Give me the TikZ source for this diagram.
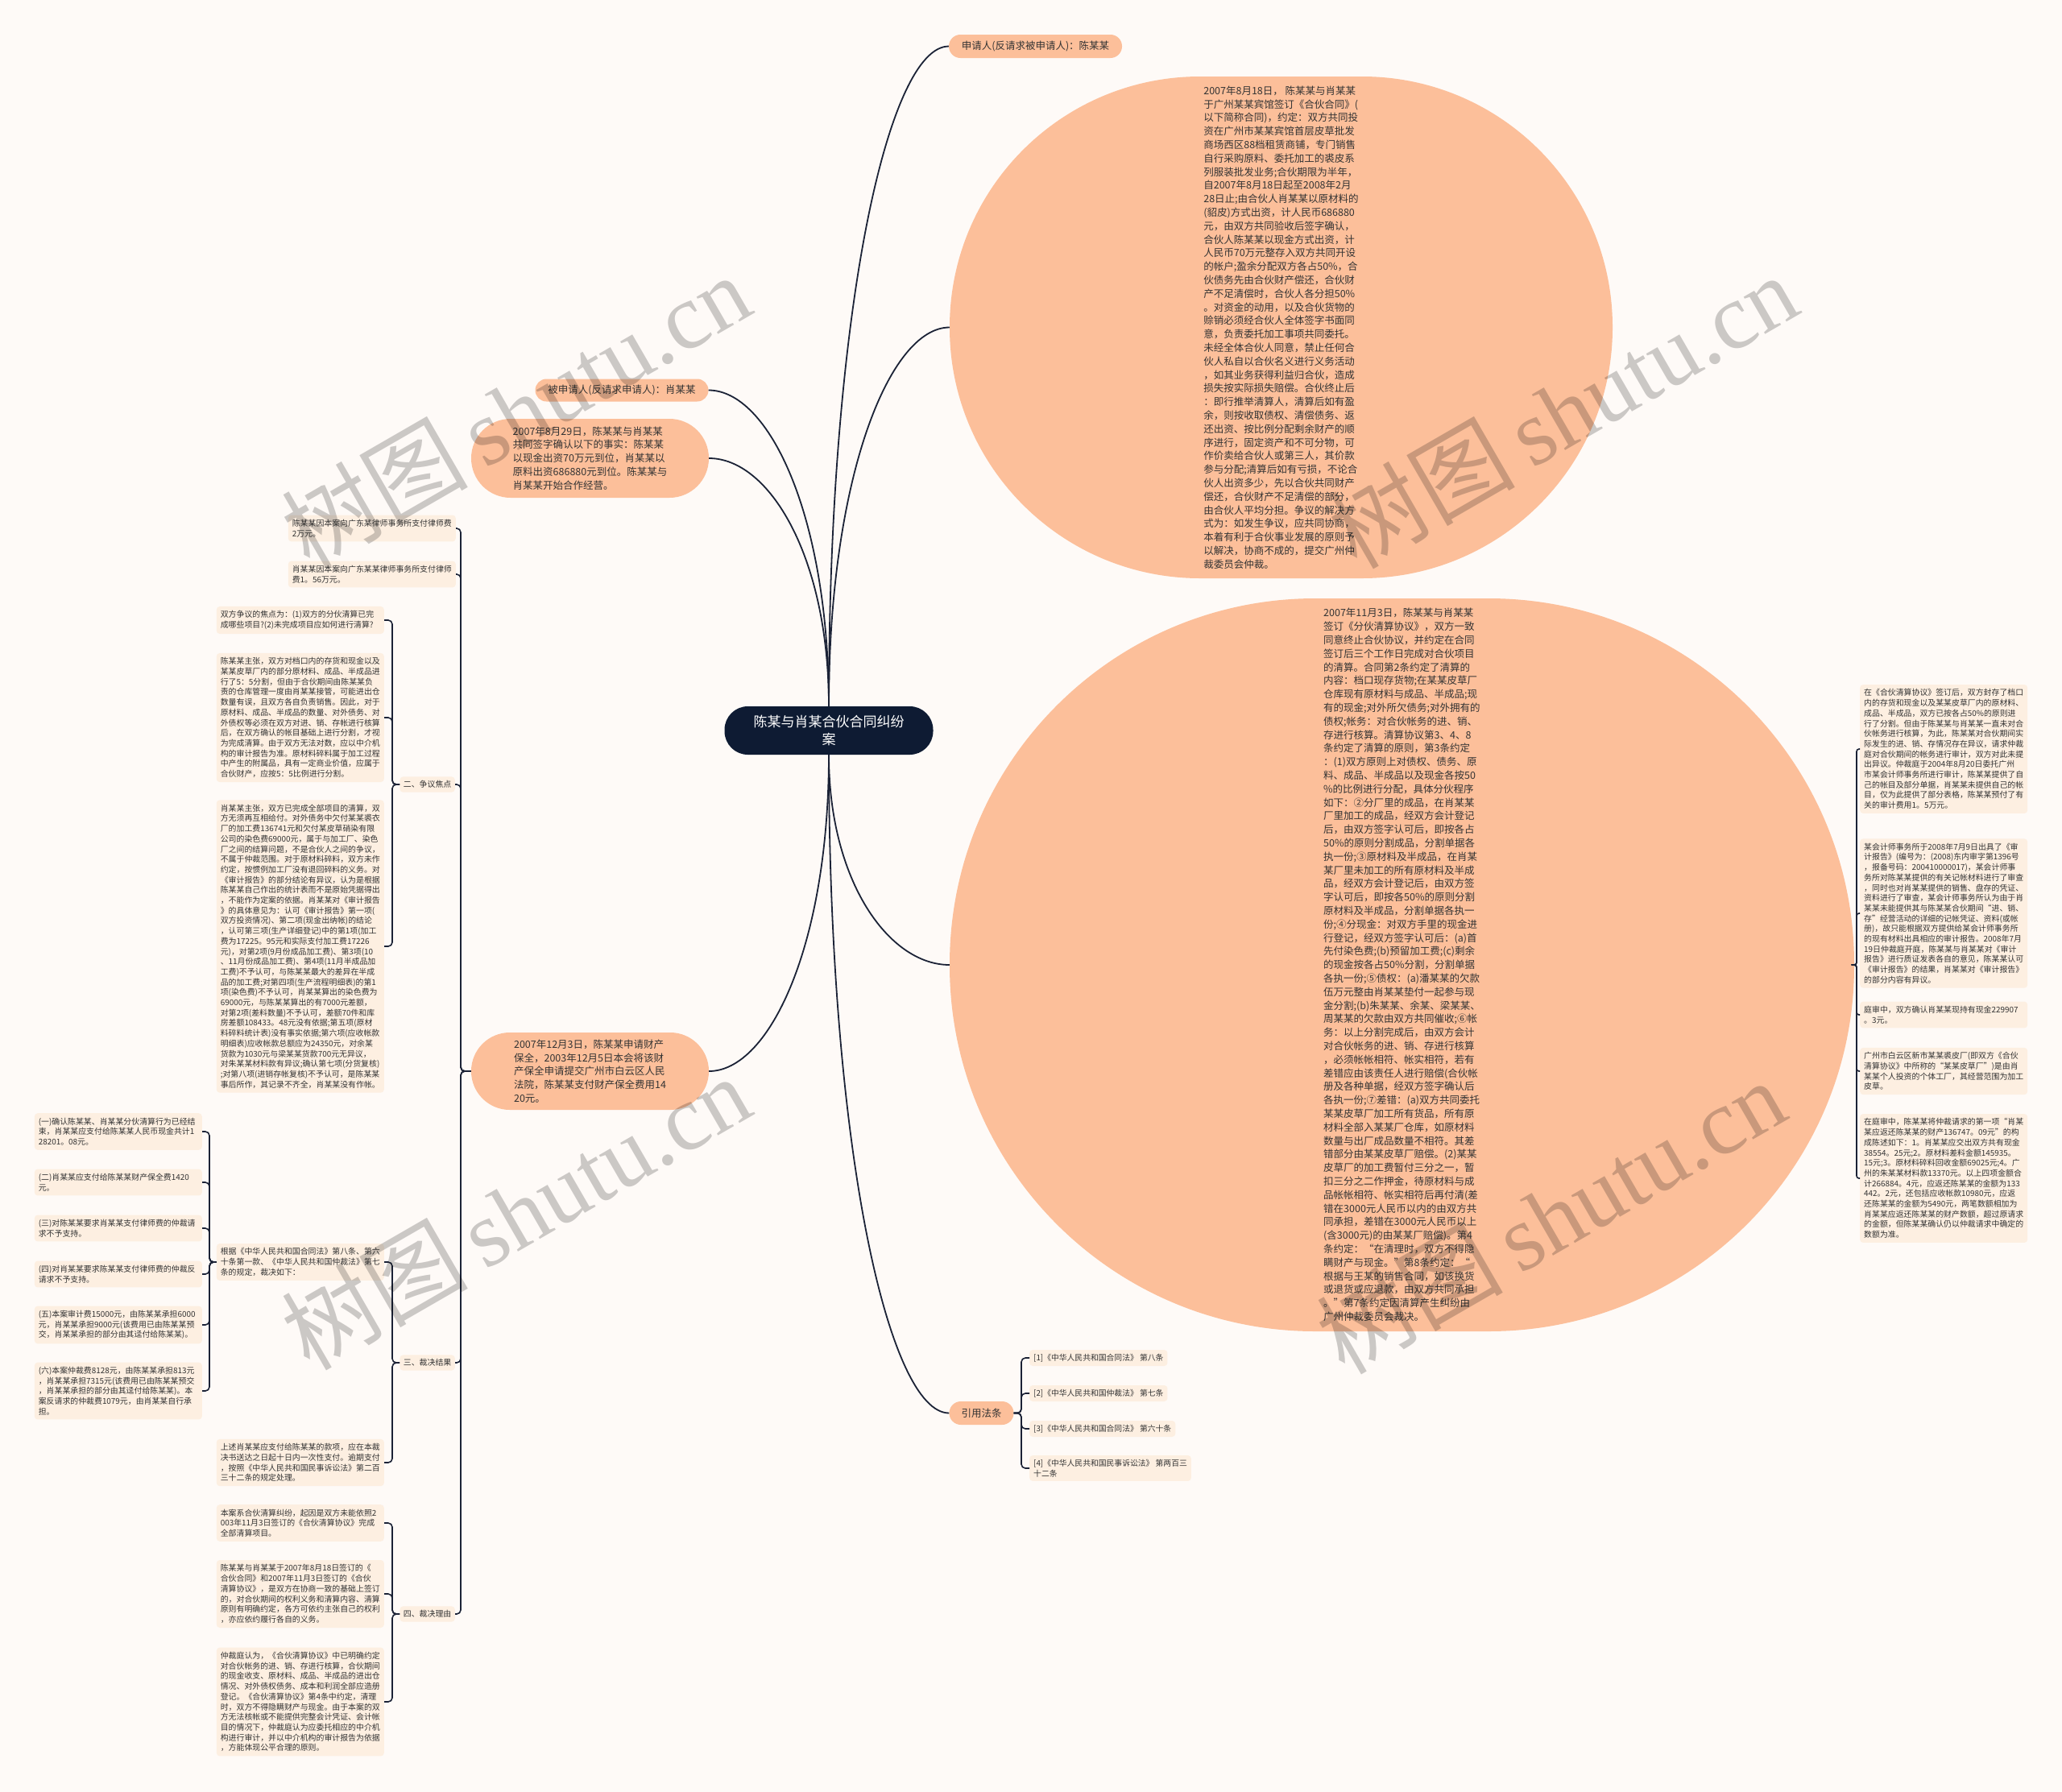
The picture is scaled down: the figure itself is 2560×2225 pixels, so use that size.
\documentclass[tikz,border=0pt]{standalone}
\usepackage{fontspec}
\setmainfont{Noto Sans CJK SC}
\newfontfamily\wmlatin{Liberation Serif}
\usetikzlibrary{calc}
\definecolor{bg}{HTML}{FEFAF7}
\definecolor{peach}{HTML}{FCBF9A}
\definecolor{lbox}{HTML}{FDEFE1}
\definecolor{navy}{HTML}{0E1B33}
\definecolor{txt}{HTML}{333333}
\definecolor{lnc}{HTML}{1B2236}
\tikzset{
  pill/.style={fill=peach, text=txt, font=\fontsize{12.5}{16.8}\selectfont, align=left, inner sep=0pt},
  sbox/.style={fill=lbox, text=txt, rounded corners=4pt, font=\fontsize{9.9}{12.7}\selectfont, align=left, text width=198pt, inner xsep=5pt, inner ysep=5.5pt},
  lab/.style={fill=lbox, text=txt, rounded corners=4pt, font=\fontsize{9.9}{12.7}\selectfont, inner xsep=4.5pt, inner ysep=5pt},
  cbox/.style={fill=lbox, text=txt, rounded corners=4pt, font=\fontsize{9.8}{12.7}\selectfont, align=left, inner xsep=5pt, inner ysep=5pt},
  conn/.style={draw=lnc, line width=1.8pt},
  br/.style={draw=lnc, line width=1.6pt, rounded corners=5pt},
  brs/.style={draw=lnc, line width=1.6pt, rounded corners=3pt},
  wm/.style={text=black, text opacity=0.2, rotate=30, font=\fontsize{116}{120}\selectfont, inner sep=0pt}
}
\begin{document}
\begin{tikzpicture}[x=1pt,y=-1pt]
\fill[bg] (0,0) rectangle (2560,2225);
\useasboundingbox (0,0) rectangle (2560,2225);

\coordinate (tA) at (572,0);
\coordinate (tB) at (487,0);
\coordinate (tD) at (260,0);
\coordinate (tR) at (2305,0);
\coordinate (tC) at (1268,0);

% root
\node[fill=navy, text=white, rounded corners=29pt, minimum width=259pt, minimum height=60pt, inner sep=0pt, font=\fontsize{17}{22}\selectfont, align=center] (root) at (1029,907) {陈某与肖某合伙合同纠纷\\案};

% right level-1
\node[pill, minimum width=215pt, minimum height=29pt, rounded corners=14.4pt] (app) at (1285.5,57.5) {申请人(反请求被申请人)：陈某某};

\node[pill, minimum width=823pt, minimum height=623pt, rounded corners=311pt] (e1) at (1590.5,406.5) {2007年8月18日，~陈某某与肖某某\\
于广州某某宾馆签订《合伙合同》(\\
以下简称合同)，约定：双方共同投\\
资在广州市某某宾馆首层皮草批发\\
商场西区88档租赁商铺，专门销售\\
自行采购原料、委托加工的裘皮系\\
列服装批发业务;合伙期限为半年，\\
自2007年8月18日起至2008年2月\\
28日止;由合伙人肖某某以原材料的\\
(貂皮)方式出资，计人民币686880\\
元，由双方共同验收后签字确认，\\
合伙人陈某某以现金方式出资，计\\
人民币70万元整存入双方共同开设\\
的帐户;盈余分配双方各占50\%，合\\
伙债务先由合伙财产偿还，合伙财\\
产不足清偿时，合伙人各分担50\%\\
。对资金的动用，以及合伙货物的\\
赊销必须经合伙人全体签字书面同\\
意，负责委托加工事项共同委托。\\
未经全体合伙人同意，禁止任何合\\
伙人私自以合伙名义进行义务活动\\
，如其业务获得利益归合伙，造成\\
损失按实际损失赔偿。合伙终止后\\
：即行推举清算人，清算后如有盈\\
余，则按收取债权、清偿债务、返\\
还出资、按比例分配剩余财产的顺\\
序进行，固定资产和不可分物，可\\
作价卖给合伙人或第三人，其价款\\
参与分配;清算后如有亏损，不论合\\
伙人出资多少，先以合伙共同财产\\
偿还，合伙财产不足清偿的部分，\\
由合伙人平均分担。争议的解决方\\
式为：如发生争议，应共同协商，\\
本着有利于合伙事业发展的原则予\\
以解决，协商不成的，提交广州仲\\
裁委员会仲裁。};

\node[pill, minimum width=1123pt, minimum height=910pt, rounded corners=454pt] (e2) at (1740.5,1198) {2007年11月3日，陈某某与肖某某\\
签订《分伙清算协议》，双方一致\\
同意终止合伙协议，并约定在合同\\
签订后三个工作日完成对合伙项目\\
的清算。合同第2条约定了清算的\\
内容：档口现存货物;在某某皮草厂\\
仓库现有原材料与成品、半成品;现\\
有的现金;对外所欠债务;对外拥有的\\
债权;帐务：对合伙帐务的进、销、\\
存进行核算。清算协议第3、4、8\\
条约定了清算的原则，第3条约定\\
：(1)双方原则上对债权、债务、原\\
料、成品、半成品以及现金各按50\\
\%的比例进行分配，具体分伙程序\\
如下：②分厂里的成品，在肖某某\\
厂里加工的成品，经双方会计登记\\
后，由双方签字认可后，即按各占\\
50\%的原则分割成品，分割单据各\\
执一份;③原材料及半成品，在肖某\\
某厂里未加工的所有原材料及半成\\
品，经双方会计登记后，由双方签\\
字认可后，即按各50\%的原则分割\\
原材料及半成品，分割单据各执一\\
份;④分现金：对双方手里的现金进\\
行登记，经双方签字认可后：(a)首\\
先付染色费;(b)预留加工费;(c)剩余\\
的现金按各占50\%分割，分割单据\\
各执一份;⑤债权：(a)潘某某的欠款\\
伍万元整由肖某某垫付一起参与现\\
金分割;(b)朱某某、余某、梁某某、\\
周某某的欠款由双方共同催收;⑥帐\\
务：以上分割完成后，由双方会计\\
对合伙帐务的进、销、存进行核算\\
，必须帐帐相符、帐实相符，若有\\
差错应由该责任人进行赔偿(合伙帐\\
册及各种单据，经双方签字确认后\\
各执一份;⑦差错：(a)双方共同委托\\
某某皮草厂加工所有货品，所有原\\
材料全部入某某厂仓库，如原材料\\
数量与出厂成品数量不相符。其差\\
错部分由某某皮草厂赔偿。(2)某某\\
皮草厂的加工费暂付三分之一，暂\\
扣三分之二作押金，待原材料与成\\
品帐帐相符、帐实相符后再付清(差\\
错在3000元人民币以内的由双方共\\
同承担，差错在3000元人民币以上\\
(含3000元)的由某某厂赔偿)。第4\\
条约定：“在清理时，双方不得隐\\
瞒财产与现金。”第8条约定：“\\
根据与王某的销售合同，如该换货\\
或退货或应退款，由双方共同承担\\
。”第7条约定因清算产生纠纷由\\
广州仲裁委员会裁决。};

\node[pill, minimum width=80pt, minimum height=29pt, rounded corners=14.4pt] (cite) at (1218.5,1754.5) {引用法条};

% left level-1
\node[pill, minimum width=215pt, minimum height=28pt, rounded corners=13.9pt] (resp) at (772,484.5) {被申请人(反请求申请人)：肖某某};
\node[pill, minimum width=295pt, minimum height=98pt, rounded corners=48.9pt] (f829) at (732.5,569) {2007年8月29日，陈某某与肖某某\\
共同签字确认以下的事实：陈某某\\
以现金出资70万元到位，肖某某以\\
原料出资686880元到位。陈某某与\\
肖某某开始合作经营。};
\node[pill, minimum width=295pt, minimum height=96pt, rounded corners=47.9pt] (f123) at (732.5,1330) {2007年12月3日，陈某某申请财产\\
保全，2003年12月5日本会将该财\\
产保全申请提交广州市白云区人民\\
法院，陈某某支付财产保全费用14\\
20元。};

% citations
\node[cbox, anchor=west] (c1t) at (1278,1686) {[1]《中华人民共和国合同法》 第八条};
\node[cbox, anchor=west] (c2t) at (1278,1730) {[2]《中华人民共和国仲裁法》 第七条};
\node[cbox, anchor=west] (c3t) at (1278,1774) {[3]《中华人民共和国合同法》 第六十条};
\node[cbox, anchor=west] (c4t) at (1278,1823) {[4]《中华人民共和国民事诉讼法》 第两百三\\十二条};

% left tree: children of f123
\node[sbox, anchor=east] (a1) at (566,656) {陈某某因本案向广东某律师事务所支付律师费\\2万元。};
\node[sbox, anchor=east] (a2) at (566,713) {肖某某因本案向广东某某律师事务所支付律师\\费1。56万元。};
\node[lab, anchor=east] (l2) at (565,974) {二、争议焦点};
\node[lab, anchor=east] (l3) at (565,1692) {三、裁决结果};
\node[lab, anchor=east] (l4) at (565,2004) {四、裁决理由};

% 二、争议焦点
\node[sbox, anchor=east] (b1) at (477,770) {双方争议的焦点为：(1)双方的分伙清算已完\\成哪些项目?(2)未完成项目应如何进行清算?};
\node[sbox, anchor=east] (b2) at (477,891) {陈某某主张，双方对档口内的存货和现金以及\\
某某皮草厂内的部分原材料、成品、半成品进\\
行了5：5分割，但由于合伙期间由陈某某负\\
责的仓库管理一度由肖某某接管，可能进出仓\\
数量有误，且双方各自负责销售。因此，对于\\
原材料、成品、半成品的数量、对外债务、对\\
外债权等必须在双方对进、销、存帐进行核算\\
后，在双方确认的帐目基础上进行分割，才视\\
为完成清算。由于双方无法对数，应以中介机\\
构的审计报告为准。原材料碎料属于加工过程\\
中产生的附属品，具有一定商业价值，应属于\\
合伙财产，应按5：5比例进行分割。};
\node[sbox, anchor=east] (b3) at (477,1175) {肖某某主张，双方已完成全部项目的清算，双\\
方无须再互相给付。对外债务中欠付某某裘衣\\
厂的加工费136741元和欠付某皮草硝染有限\\
公司的染色费69000元，属于与加工厂、染色\\
厂之间的结算问题，不是合伙人之间的争议，\\
不属于仲裁范围。对于原材料碎料，双方未作\\
约定，按惯例加工厂没有退回碎料的义务。对\\
《审计报告》的部分结论有异议，认为是根据\\
陈某某自己作出的统计表而不是原始凭据得出\\
，不能作为定案的依据。肖某某对《审计报告\\
》的具体意见为：认可《审计报告》第一项(\\
双方投资情况)、第二项(现金出纳帐)的结论\\
，认可第三项(生产详细登记)中的第1项(加工\\
费为17225。95元和实际支付加工费17226\\
元)，对第2项(9月份成品加工费)、第3项(10\\
、11月份成品加工费)、第4项(11月半成品加\\
工费)不予认可，与陈某某最大的差异在半成\\
品的加工费;对第四项(生产流程明细表)的第1\\
项(染色费)不予认可，肖某某算出的染色费为\\
69000元，与陈某某算出的有7000元差额，\\
对第2项(差料数量)不予认可，差额70件和库\\
房差额108433。48元没有依据;第五项(原材\\
料碎料统计表)没有事实依据;第六项(应收帐款\\
明细表)应收帐款总额应为24350元，对余某\\
货款为1030元与梁某某货款700元无异议，\\
对朱某某材料款有异议;确认第七项(分货复核)\\
;对第八项(进销存帐复核)不予认可，是陈某某\\
事后所作，其记录不齐全，肖某某没有作帐。};

% 三、裁决结果
\node[sbox, anchor=east] (k1) at (477,1567) {根据《中华人民共和国合同法》第八条、第六\\
十条第一款、《中华人民共和国仲裁法》第七\\
条的规定，裁决如下：};
\node[sbox, anchor=east] (k2) at (477,1816) {上述肖某某应支付给陈某某的款项，应在本裁\\
决书送达之日起十日内一次性支付。逾期支付\\
，按照《中华人民共和国民事诉讼法》第二百\\
三十二条的规定处理。};
\node[sbox, anchor=east] (d1) at (251,1405) {(一)确认陈某某、肖某某分伙清算行为已经结\\
束，肖某某应支付给陈某某人民币现金共计1\\
28201。08元。};
\node[sbox, anchor=east] (d2) at (251,1468) {(二)肖某某应支付给陈某某财产保全费1420\\
元。};
\node[sbox, anchor=east] (d3) at (251,1525) {(三)对陈某某要求肖某某支付律师费的仲裁请\\
求不予支持。};
\node[sbox, anchor=east] (d4) at (251,1582) {(四)对肖某某要求陈某某支付律师费的仲裁反\\
请求不予支持。};
\node[sbox, anchor=east] (d5) at (251,1645) {(五)本案审计费15000元，由陈某某承担6000\\
元，肖某某承担9000元(该费用已由陈某某预\\
交，肖某某承担的部分由其迳付给陈某某)。};
\node[sbox, anchor=east] (d6) at (251,1727) {(六)本案仲裁费8128元，由陈某某承担813元\\
，肖某某承担7315元(该费用已由陈某某预交\\
，肖某某承担的部分由其迳付给陈某某)。本\\
案反请求的仲裁费1079元，由肖某某自行承\\
担。};

% 四、裁决理由
\node[sbox, anchor=east] (g1) at (477,1891) {本案系合伙清算纠纷，起因是双方未能依照2\\
003年11月3日签订的《合伙清算协议》完成\\
全部清算项目。};
\node[sbox, anchor=east] (g2) at (477,1979) {陈某某与肖某某于2007年8月18日签订的《\\
合伙合同》和2007年11月3日签订的《合伙\\
清算协议》，是双方在协商一致的基础上签订\\
的，对合伙期间的权利义务和清算内容、清算\\
原则有明确约定，各方可依约主张自己的权利\\
，亦应依约履行各自的义务。};
\node[sbox, anchor=east] (g3) at (477,2113) {仲裁庭认为，《合伙清算协议》中已明确约定\\
对合伙帐务的进、销、存进行核算，合伙期间\\
的现金收支、原材料、成品、半成品的进出仓\\
情况、对外债权债务、成本和利润全部应造册\\
登记。《合伙清算协议》第4条中约定，清理\\
时，双方不得隐瞒财产与现金。由于本案的双\\
方无法核帐或不能提供完整会计凭证、会计帐\\
目的情况下，仲裁庭认为应委托相应的中介机\\
构进行审计，并以中介机构的审计报告为依据\\
，方能体现公平合理的原则。};

% right column
\node[sbox, anchor=west] (r1) at (2309,930) {在《合伙清算协议》签订后，双方封存了档口\\
内的存货和现金以及某某皮草厂内的原材料、\\
成品、半成品，双方已按各占50\%的原则进\\
行了分割。但由于陈某某与肖某某一直未对合\\
伙帐务进行核算，为此，陈某某对合伙期间实\\
际发生的进、销、存情况存在异议，请求仲裁\\
庭对合伙期间的帐务进行审计，双方对此未提\\
出异议。仲裁庭于2004年8月20日委托广州\\
市某会计师事务所进行审计，陈某某提供了自\\
己的帐目及部分单据，肖某某未提供自己的帐\\
目，仅为此提供了部分表格，陈某某预付了有\\
关的审计费用1。5万元。};
\node[sbox, anchor=west] (r2) at (2309,1134) {某会计师事务所于2008年7月9日出具了《审\\
计报告》(编号为：(2008)东内审字第1396号\\
，报备号码：200410000017)，某会计师事\\
务所对陈某某提供的有关记帐材料进行了审查\\
，同时也对肖某某提供的销售、盘存的凭证、\\
资料进行了审查，某会计师事务所认为由于肖\\
某某未能提供其与陈某某合伙期间“进、销、\\
存”经营活动的详细的记帐凭证、资料(或帐\\
册)，故只能根据双方提供给某会计师事务所\\
的现有材料出具相应的审计报告。2008年7月\\
19日仲裁庭开庭，陈某某与肖某某对《审计\\
报告》进行质证发表各自的意见，陈某某认可\\
《审计报告》的结果，肖某某对《审计报告》\\
的部分内容有异议。};
\node[sbox, anchor=west] (r3) at (2309,1260) {庭审中，双方确认肖某某现持有现金229907\\
。3元。};
\node[sbox, anchor=west] (r4) at (2309,1330) {广州市白云区新市某某裘皮厂(即双方《合伙\\
清算协议》中所称的“某某皮草厂”)是由肖\\
某某个人投资的个体工厂，其经营范围为加工\\
皮草。};
\node[sbox, anchor=west] (r5) at (2309,1463) {在庭审中，陈某某将仲裁请求的第一项“肖某\\
某应返还陈某某的财产136747。09元”的构\\
成陈述如下：1。肖某某应交出双方共有现金\\
38554。25元;2。原材料差料金额145935。\\
15元;3。原材料碎料回收金额69025元;4。广\\
州的朱某某材料款13370元。以上四项金额合\\
计266884。4元，应返还陈某某的金额为133\\
442。2元，还包括应收帐款10980元，应返\\
还陈某某的金额为5490元，两笔数额相加为\\
肖某某应返还陈某某的财产数额，超过原请求\\
的金额，但陈某某确认仍以仲裁请求中确定的\\
数额为准。};

% root connectors
\draw[conn] (root.north) .. controls +(0,-492) and +(-75,0) .. (app.west);
\draw[conn] (root.north) .. controls +(0,-282) and +(-75,0) .. (e1.west);
\draw[conn] (root.north) .. controls +(0,-236) and +(75,0) .. (resp.east);
\draw[conn] (root.north) .. controls +(0,-185) and +(75,0) .. (f829.east);
\draw[conn] (root.south) .. controls +(0,236) and +(75,0) .. (f123.east);
\draw[conn] (root.south) .. controls +(0,157) and +(-75,0) .. (e2.west);
\draw[conn] (root.south) .. controls +(0,491) and +(-75,0) .. (cite.west);

% bracket connectors
\foreach \c in {a1,a2,l2,l3,l4}
  \draw[br] (f123.west) -- (f123.west -| tA) -- (\c.east -| tA) -- (\c.east);
\foreach \c in {b1,b2,b3}
  \draw[br] (l2.west) -- (l2.west -| tB) -- (\c.east -| tB) -- (\c.east);
\foreach \c in {k1,k2}
  \draw[br] (l3.west) -- (l3.west -| tB) -- (\c.east -| tB) -- (\c.east);
\foreach \c in {g1,g2,g3}
  \draw[br] (l4.west) -- (l4.west -| tB) -- (\c.east -| tB) -- (\c.east);
\foreach \c in {d1,d2,d3,d4,d5,d6}
  \draw[br] (k1.west) -- (k1.west -| tD) -- (\c.east -| tD) -- (\c.east);
\foreach \c in {c1t,c2t,c3t,c4t}
  \draw[br] (cite.east) -- (cite.east -| tC) -- (\c.west -| tC) -- (\c.west);
\foreach \c in {r1,r2,r3,r4,r5}
  \draw[brs] (e2.east) -- (e2.east -| tR) -- (\c.west -| tR) -- (\c.west);

% watermarks
\node[wm] (w1) at (640,510) {树图\,{\wmlatin shutu.cn}};
\node[wm] (w2) at (1940,510) {树图\,{\wmlatin shutu.cn}};
\node[wm] (w3) at (640,1505) {树图\,{\wmlatin shutu.cn}};
\node[wm] (w4) at (1925,1510) {树图\,{\wmlatin shutu.cn}};
\end{tikzpicture}
\end{document}
